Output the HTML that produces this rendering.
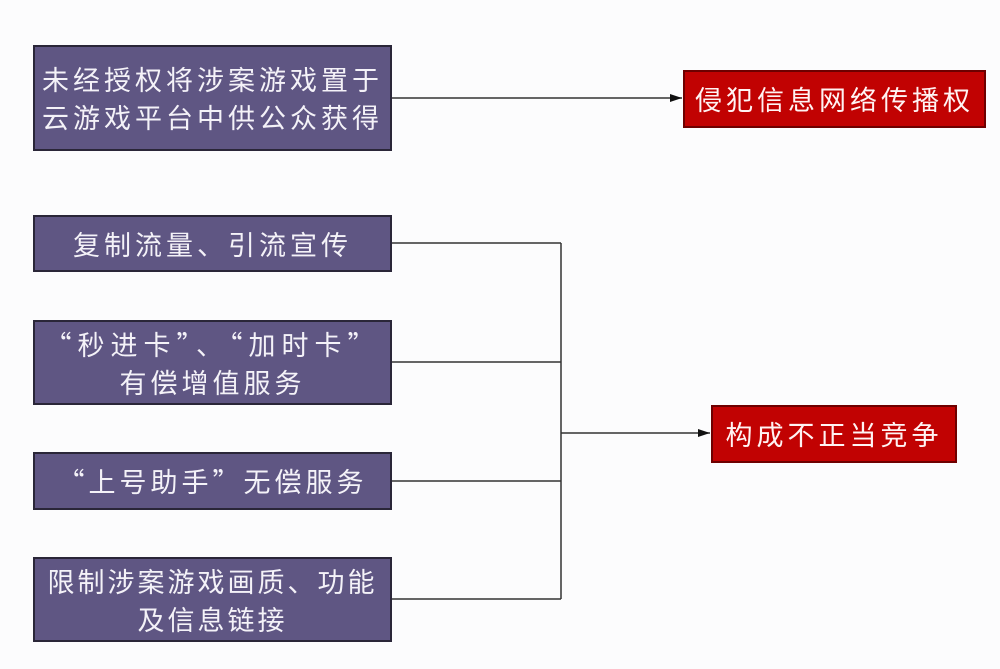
<!DOCTYPE html>
<html><head><meta charset="utf-8"><style>
body{margin:0;width:1000px;height:669px;background:#fcfcfd;position:relative;overflow:hidden;font-family:"Noto Sans CJK SC","Liberation Sans",sans-serif}
.b{position:absolute;box-sizing:border-box;border:2px solid #2a2638;background:#5f5683;color:#f4f2f8;display:flex;align-items:center;justify-content:center;text-align:center;font-size:27px;letter-spacing:4px;line-height:38px;white-space:nowrap}
.r{background:#c10202;border:2px solid #6e0000;color:#fff3f3}
</style></head><body>
<svg width="1000" height="669" style="position:absolute;left:0;top:0">
<defs><marker id="a" markerWidth="12" markerHeight="8" refX="12" refY="4" orient="auto" markerUnits="userSpaceOnUse"><path d="M0,0 L12,4 L0,8 z" fill="#111"/></marker></defs>
<g stroke="#333" stroke-width="1.5" fill="none">
<line x1="392" y1="98" x2="682" y2="98" marker-end="url(#a)"/>
<line x1="392" y1="243" x2="561" y2="243"/>
<line x1="392" y1="362" x2="561" y2="362"/>
<line x1="392" y1="481" x2="561" y2="481"/>
<line x1="392" y1="599" x2="561" y2="599"/>
<line x1="561" y1="243" x2="561" y2="599"/>
<line x1="561" y1="433" x2="710" y2="433" marker-end="url(#a)"/>
</g></svg>
<div class="b" style="left:33px;top:45px;width:359px;height:106px">未经授权将涉案游戏置于<br>云游戏平台中供公众获得</div>
<div class="b" style="left:33px;top:215px;width:359px;height:57px">复制流量、引流宣传</div>
<div class="b" style="left:33px;top:320px;width:359px;height:85px;letter-spacing:4px"><div><span style="letter-spacing:6px">“秒进卡”、“加时卡”</span><br>有偿增值服务</div></div>
<div class="b" style="left:33px;top:452px;width:359px;height:58px;letter-spacing:4px">“上号助手”无偿服务</div>
<div class="b" style="left:33px;top:557px;width:359px;height:85px;letter-spacing:3px">限制涉案游戏画质、功能<br>及信息链接</div>
<div class="b r" style="left:683px;top:70px;width:303px;height:58px">侵犯信息网络传播权</div>
<div class="b r" style="left:711px;top:405px;width:246px;height:58px">构成不正当竞争</div>
</body></html>
